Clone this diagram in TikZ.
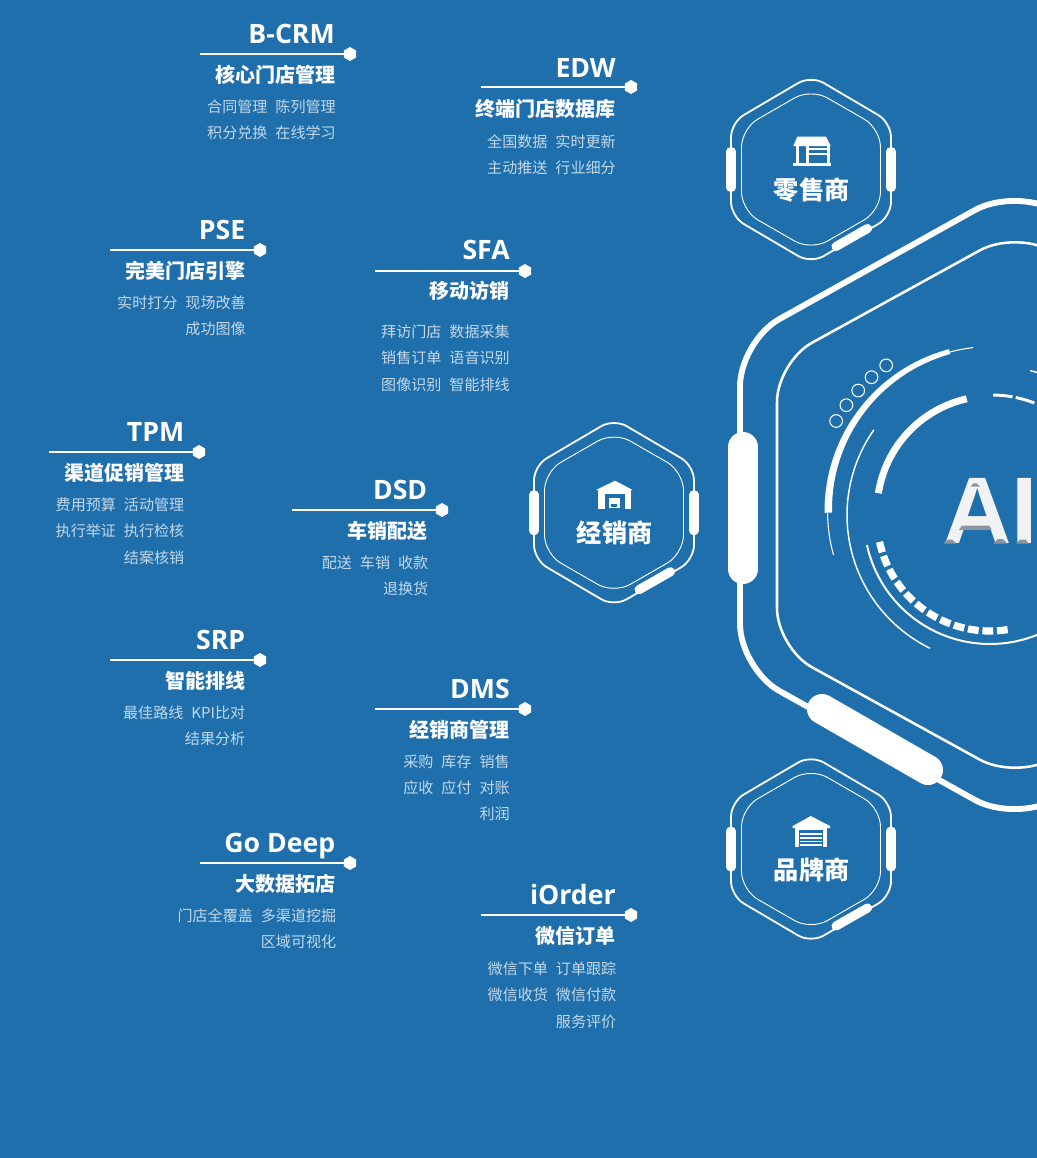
\documentclass[tikz,border=0pt]{standalone}
\usepackage{fontspec}
\setmainfont{Open Sans}
\newfontfamily\cjkfont{Noto Sans CJK SC}
\newfontfamily\aifont{Liberation Sans}
\usepackage{xcolor}
\definecolor{panel}{HTML}{1F6FAD}
\definecolor{muted}{HTML}{C3D8E9}
\definecolor{bevel}{HTML}{8C94A0}
\definecolor{face}{HTML}{F1F2F4}
\usepackage{tikz}
\usetikzlibrary{shapes.geometric}
\newcommand{\gapw}{\hspace{6pt}}

\begin{document}
\begin{tikzpicture}[
  x=0.75pt, y=-0.75pt,
  hexdot/.style={regular polygon, regular polygon sides=6, shape border rotate=30,
    fill=white, minimum size=10.5pt, inner sep=0pt},
  rule/.style={draw=white, line width=1.4pt},
  brand/.style={anchor=base east, inner sep=0pt, text=white,
    font=\fontsize{20}{24}\selectfont\bfseries},
  subtitle/.style={anchor=base east, inner sep=0pt, text=white,
    font=\cjkfont\fontsize{15}{18}\selectfont\bfseries},
  items/.style={anchor=north east, inner sep=0pt, align=right, text=muted,
    font=\cjkfont\fontsize{11.3}{19.7}\selectfont},
  pill/.style={line cap=round, line width=#1, white},
  ringdot/.style={circle, draw=white, line width=0.8pt, minimum size=9.5pt, inner sep=0pt},
  badge/.pic={
    \draw[white, line width=1.35pt, rounded corners=11pt]
      (0,-94) -- (80,-47) -- (80,47) -- (0,94) -- (-80,47) -- (-80,-47) -- cycle;
    \draw[white, line width=0.7pt, rounded corners=14pt]
      (0,-81) -- (69.5,-41) -- (69.5,41) -- (0,81) -- (-69.5,41) -- (-69.5,-41) -- cycle;
    \draw[pill=6.8pt] (-80,-18) -- (-80,18);
    \draw[pill=6.8pt] (80,-18) -- (80,18);
    \draw[pill=6.8pt] (25,77) -- (56.5,59);
    \node[white, inner sep=0pt, font=\cjkfont\fontsize{18.9}{22}\selectfont\bfseries]
      (-label) at (0.7,20.5) {#1};
  }
]
  \path[use as bounding box, fill=panel] (0,0) rectangle (1037,1158);
  \clip (0,0) rectangle (1037,1158);

  % big frame
  \draw[white, line width=4.4pt, rounded corners=34pt]
    (1014.5,188) -- (1289,341) -- (1289,669) -- (1014.5,822)
    -- (740,669) -- (740,341) -- cycle;
  \draw[white, line width=1.9pt, rounded corners=30pt]
    (1015,231) -- (1253,362) -- (1253,648) -- (1015,779)
    -- (777,648) -- (777,362) -- cycle;
  \draw[pill=22.5pt] (743,447) -- (743,569);
  \draw[pill=22.5pt] (822,709) -- (928,770);

  % rings
  \begin{scope}[shift={(992,511)}]
    \fill[white] plot[domain=179.4:255.1, samples=30] (\x:167.5)
      -- plot[domain=255.1:179.4, samples=30] (\x:{162.5-2.5*(255.1-\x)/75.7}) -- cycle;
    \draw[white, line width=0.8pt] (255.1:164.5) arc[start angle=255.1, end angle=263.4, radius=164.5];
    \draw[white, line width=0.8pt] (179.4:164.5) arc[start angle=179.4, end angle=164.5, radius=164.5];
    \draw[white, line width=5.2pt] (257.3:115) arc[start angle=257.3, end angle=188.9, radius=115];
    \draw[white, line width=2.2pt] (270.6:116) arc[start angle=270.6, end angle=280.2, radius=116];
    \draw[white, line width=2.2pt] (281.8:116) arc[start angle=281.8, end angle=291.4, radius=116];
    \foreach \a in {210,216,222,228,234}
      \node[ringdot] (ringdot-\a) at (\a:180) {};
  \end{scope}
  \begin{scope}[shift={(995.5,515)}]
    \draw[white, line width=1.1pt] (215:148.5) arc[start angle=215, end angle=116.2, radius=148.5];
    \draw[white, line width=1.1pt] (283.5:148.5) arc[start angle=283.5, end angle=292, radius=148.5];
  \end{scope}
  \begin{scope}[shift={(990,518)}]
    \draw[white, line width=1.5pt] (167.6:126) arc[start angle=167.6, end angle=60, radius=126];
    \draw[white, line width=5.4pt, dash pattern=on 8.1pt off 2.84pt]
      (167.8:113) arc[start angle=167.8, end angle=81, radius=113];
  \end{scope}

  % AI
  \node[anchor=base west, inner sep=0pt, text=face,
        font=\aifont\fontsize{71}{80}\selectfont\bfseries]
    (aimark) at (943,543.7) {AI};
  \fill[bevel] (943.3,543.7) -- (956.7,543.7) -- (952.3,539.7) -- (947.7,539.7) -- cycle;
  \fill[bevel] (993.3,543.7) -- (1007.7,543.7) -- (1002.7,539) -- (997.7,539) -- cycle;
  \fill[bevel] (959,530) -- (991.7,530) -- (989.3,525.7) -- (961.7,525.7) -- cycle;
  \fill[bevel] (970.7,486.7) -- (980,486.7) -- (976.7,483.3) -- (973.3,483.3) -- cycle;
  \fill[bevel] (1016,543.7) -- (1029,543.7) -- (1025.7,539.7) -- (1019.7,539.7) -- cycle;

  % badges
  \pic (retail) at (811,169.5) {badge={零售商}};
  \pic (dealer) at (614,512.7) {badge={经销商}};
  \pic (maker) at (811,849) {badge={品牌商}};

  % shop icon
  \fill[white] (793.3,146) -- (797.3,136.7) -- (826,136.7) -- (830.7,146) -- cycle;
  \fill[white] (793,163.3) rectangle (830.5,165.7);
  \fill[white] (796,146) rectangle (799.3,164);
  \fill[white] (806,146) rectangle (808.7,164);
  \fill[white] (826.7,146) rectangle (830,164);
  \fill[white] (808,147.5) rectangle (827,149.5);
  \fill[white] (808,152.7) rectangle (827,154.7);

  % warehouse icon
  \fill[white] (596,490) -- (615,480.7) -- (632.7,490) -- cycle;
  \fill[white] (598.3,490) rectangle (630.7,509.3);
  \fill[panel] (604.7,494) rectangle (625,509.3);
  \fill[white] (609.3,498.3) rectangle (620,508.3);
  \fill[panel] (611,504.3) rectangle (616.7,507.3);

  % depot icon
  \fill[white] (792.7,826) -- (810.7,816) -- (830,826) -- (830,828) -- (792.7,828) -- cycle;
  \fill[white] (795,828) rectangle (799,846.7);
  \fill[white] (823.3,828) rectangle (827.3,846.7);
  \fill[white] (799,827.5) rectangle (823.3,830);
  \fill[white] (800,833.3) rectangle (821.7,835.3);
  \fill[white] (800,837.3) rectangle (821.7,838.7);
  \fill[white] (800,840.7) rectangle (821.7,842);
  \fill[white] (800,844) rectangle (821.7,846);

  % B-CRM
  \node[hexdot] (bcrmdot) at (350,54) {};
  \coordinate (bcrmstart) at (200,54);
  \draw[rule] (bcrmstart) -- (bcrmdot);
  \node[brand] (bcrm) at (335,43) {B-CRM};
  \node[subtitle] (bcrmsub) at (335.5,82) {核心门店管理};
  \node[items] (bcrmitems) at (336,99.5) {合同管理\gapw 陈列管理\\积分兑换\gapw 在线学习};

  % EDW
  \node[hexdot] (edwdot) at (631,87) {};
  \coordinate (edwstart) at (481,87);
  \draw[rule] (edwstart) -- (edwdot);
  \node[brand] (edw) at (616,77) {EDW};
  \node[subtitle] (edwsub) at (616,116) {终端门店数据库};
  \node[items] (edwitems) at (616,134) {全国数据\gapw 实时更新\\主动推送\gapw 行业细分};

  % PSE
  \node[hexdot] (psedot) at (260,250) {};
  \coordinate (psestart) at (110,250);
  \draw[rule] (psestart) -- (psedot);
  \node[brand] (pse) at (245.5,239) {PSE};
  \node[subtitle] (psesub) at (245.5,278) {完美门店引擎};
  \node[items] (pseitems) at (246,295.5) {实时打分\gapw 现场改善\\成功图像};

  % SFA
  \node[hexdot] (sfadot) at (525,271) {};
  \coordinate (sfastart) at (375,271);
  \draw[rule] (sfastart) -- (sfadot);
  \node[brand] (sfa) at (510,259) {SFA};
  \node[subtitle] (sfasub) at (510,298) {移动访销};
  \node[items] (sfaitems) at (510,324.5) {拜访门店\gapw 数据采集\\销售订单\gapw 语音识别\\图像识别\gapw 智能排线};

  % TPM
  \node[hexdot] (tpmdot) at (199,452) {};
  \coordinate (tpmstart) at (49,452);
  \draw[rule] (tpmstart) -- (tpmdot);
  \node[brand] (tpm) at (184.5,441) {TPM};
  \node[subtitle] (tpmsub) at (184.5,480) {渠道促销管理};
  \node[items] (tpmitems) at (184.5,497.5) {费用预算\gapw 活动管理\\执行举证\gapw 执行检核\\结案核销};

  % DSD
  \node[hexdot] (dsddot) at (442,510) {};
  \coordinate (dsdstart) at (292,510);
  \draw[rule] (dsdstart) -- (dsddot);
  \node[brand] (dsd) at (427.5,499) {DSD};
  \node[subtitle] (dsdsub) at (427.5,538) {车销配送};
  \node[items] (dsditems) at (428.5,555.5) {配送\gapw 车销\gapw 收款\\退换货};

  % SRP
  \node[hexdot] (srpdot) at (260,660) {};
  \coordinate (srpstart) at (110,660);
  \draw[rule] (srpstart) -- (srpdot);
  \node[brand] (srp) at (245.5,649) {SRP};
  \node[subtitle] (srpsub) at (245.5,688) {智能排线};
  \node[items] (srpitems) at (245.5,705.5) {最佳路线\gapw KPI比对\\结果分析};

  % DMS
  \node[hexdot] (dmsdot) at (525,709) {};
  \coordinate (dmsstart) at (375,709);
  \draw[rule] (dmsstart) -- (dmsdot);
  \node[brand] (dms) at (510,698) {DMS};
  \node[subtitle] (dmssub) at (510,737) {经销商管理};
  \node[items] (dmsitems) at (510,754.5) {采购\gapw 库存\gapw 销售\\应收\gapw 应付\gapw 对账\\利润};

  % Go Deep
  \node[hexdot] (godot) at (350,863) {};
  \coordinate (gostart) at (200,863);
  \draw[rule] (gostart) -- (godot);
  \node[brand] (godeep) at (335.5,852) {Go Deep};
  \node[subtitle] (gosub) at (335.5,891) {大数据拓店};
  \node[items] (goitems) at (336.5,908.5) {门店全覆盖\gapw 多渠道挖掘\\区域可视化};

  % iOrder
  \node[hexdot] (iorderdot) at (631,915) {};
  \coordinate (iorderstart) at (481,915);
  \draw[rule] (iorderstart) -- (iorderdot);
  \node[brand] (iorder) at (616,904) {iOrder};
  \node[subtitle] (iordersub) at (616,943) {微信订单};
  \node[items] (iorderitems) at (616.5,961.5) {微信下单\gapw 订单跟踪\\微信收货\gapw 微信付款\\服务评价};
\end{tikzpicture}
\end{document}
